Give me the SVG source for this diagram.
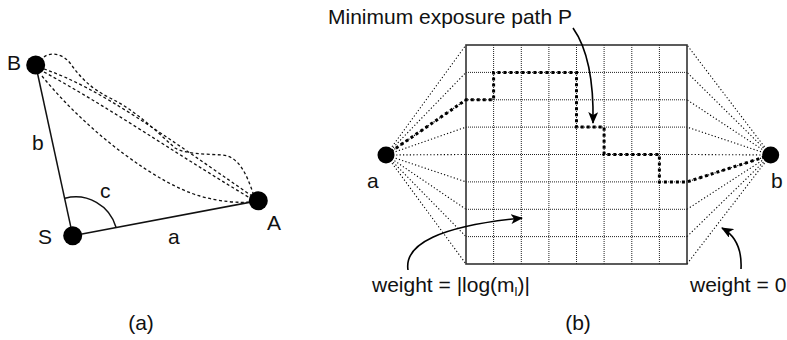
<svg xmlns="http://www.w3.org/2000/svg" width="787" height="340" viewBox="0 0 787 340">
<defs>
<style>
text{font-family:"Liberation Sans",Arial,sans-serif;font-size:21px;fill:#111}
.node{fill:#000}
.solid{stroke:#111;stroke-width:1.5;fill:none}
.dash{stroke:#111;stroke-width:1.3;fill:none;stroke-dasharray:3,2.5}
.ray{stroke:#000;stroke-width:1.1;fill:none;stroke-dasharray:1.2,2.2}
.grid{stroke:#222;stroke-width:1;fill:none;stroke-dasharray:1,1}
.border{stroke:#333;stroke-width:1.6;fill:none}
.path{stroke:#000;stroke-width:3;fill:none;stroke-dasharray:3,3}
.arrow{stroke:#000;stroke-width:1.6;fill:none;marker-end:url(#ah)}
</style>
<marker id="ah" viewBox="0 0 12 10" refX="11" refY="5" markerWidth="12" markerHeight="10" markerUnits="userSpaceOnUse" orient="auto">
<path d="M0,0 L12,5 L0,10 L3,5 z" fill="#000"/>
</marker>
</defs>

<g id="panel-a">
<g id="connectors-a">
<line class="solid" x1="72.7" y1="235.7" x2="35.7" y2="65"/>
<line class="solid" x1="72.7" y1="235.7" x2="258.3" y2="200.7"/>
<path class="solid" d="M65,198.3 A42,42 0 0 1 116,227.3"/>
<path class="dash" d="M44,57 C50,52 62,53 70,63 C80,77 90,88 110,98 C135,110 155,130 175,148 C185,154 205,154 222,155 C240,156 248,178 254,196"/>
<path class="dash" d="M44,69 C100,88 165,136 252,196"/>
<path class="dash" d="M44,72 C110,108 170,150 250,198"/>
<path class="dash" d="M42,76 C90,135 160,185 200,196 C220,202 240,203 250,202"/>
</g>
<g id="node-B"><circle class="node" cx="35.7" cy="65" r="9.5"/><text x="7" y="70">B</text></g>
<g id="node-S"><circle class="node" cx="72.7" cy="235.7" r="9.5"/><text x="38" y="244">S</text></g>
<g id="node-A"><circle class="node" cx="258.3" cy="200.7" r="9.5"/><text x="267" y="230">A</text></g>
<text x="32" y="150">b</text>
<text x="100" y="198">c</text>
<text x="168" y="244">a</text>
<text x="141" y="330" text-anchor="middle">(a)</text>
</g>

<g id="panel-b">
<g id="connectors-b">
<path class="ray" d="M386,155 L466,45 M386,155 L466,72.4 M386,155 L466,99.8 M386,155 L466,127.1 M386,155 L466,154.5 M386,155 L466,181.9 M386,155 L466,209.3 M386,155 L466,236.6 M386,155 L466,264"/>
<path class="ray" d="M770.7,155 L687,45 M770.7,155 L687,72.4 M770.7,155 L687,99.8 M770.7,155 L687,127.1 M770.7,155 L687,154.5 M770.7,155 L687,181.9 M770.7,155 L687,209.3 M770.7,155 L687,236.6 M770.7,155 L687,264"/>
</g>
<g id="grid">
<path class="grid" d="M493.6,45 V264 M521.3,45 V264 M548.9,45 V264 M576.5,45 V264 M604.1,45 V264 M631.8,45 V264 M659.4,45 V264 M466,72.4 H687 M466,99.8 H687 M466,127.1 H687 M466,154.5 H687 M466,181.9 H687 M466,209.3 H687 M466,236.6 H687"/>
<rect class="border" x="466" y="45" width="221" height="219"/>
</g>
<path id="path-P" class="path" d="M386,155 L466,99.8 L493.6,99.8 L493.6,72.4 L576.5,72.4 L576.5,127.1 L604.1,127.1 L604.1,154.5 L659.4,154.5 L659.4,181.9 L687,181.9 L770.7,155"/>
<g id="node-a"><circle class="node" cx="386" cy="155" r="8.5"/><text x="367" y="188">a</text></g>
<g id="node-b"><circle class="node" cx="770.7" cy="155" r="8.5"/><text x="771" y="188">b</text></g>
<g id="arrows">
<path class="arrow" d="M573,28 C585,45 594,75 593,123"/>
<path class="arrow" d="M408,270 C404,244 440,226 522,218"/>
<path class="arrow" d="M741,269 C742,250 736,236 722,228"/>
</g>
<text x="328" y="24">Minimum exposure path P</text>
<text x="372" y="292">weight = |log(m<tspan font-size="13" dy="4">l</tspan><tspan dy="-4">)|</tspan></text>
<text x="690" y="292">weight = 0</text>
<text x="578" y="330" text-anchor="middle">(b)</text>
</g>
</svg>
